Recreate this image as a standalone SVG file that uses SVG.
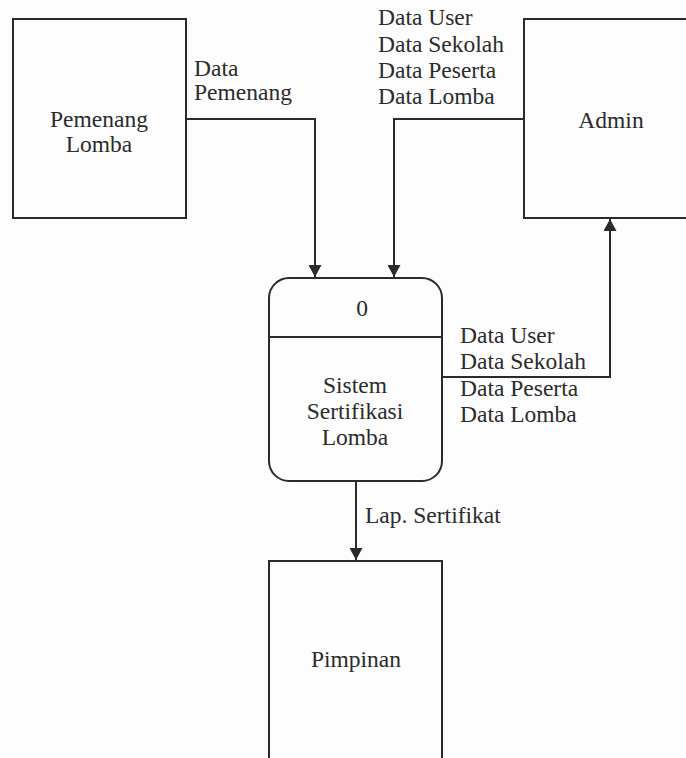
<svg xmlns="http://www.w3.org/2000/svg" width="686" height="758" viewBox="0 0 686 758">
  <style>
    .box { fill: none; stroke: #2b2b2b; stroke-width: 2; }
    .flow { fill: none; stroke: #2b2b2b; stroke-width: 2; }
    .t { font-family: 'Liberation Serif', 'Times New Roman', Times, 'Noto Serif', 'DejaVu Serif', serif; font-size: 23.5px; fill: #2b2b2b; }
    .c { text-anchor: middle; }
  </style>
  <defs>
    <marker id="arrow" markerUnits="userSpaceOnUse" markerWidth="13" markerHeight="13" refX="12" refY="6.5" orient="auto">
      <path d="M0,0 L12,6.5 L0,13 z" fill="#2b2b2b"/>
    </marker>
  </defs>
  <rect width="686" height="758" fill="#fdfdfd"/>

  <!-- external entity: Pemenang Lomba -->
  <g id="pemenang-lomba">
    <rect class="box" x="13" y="19" width="173" height="199"/>
    <text class="t c" x="99" y="127">Pemenang</text>
    <text class="t c" x="99" y="152">Lomba</text>
  </g>

  <!-- external entity: Admin (runs past the right edge) -->
  <g id="admin">
    <rect class="box" x="524" y="19" width="180" height="199"/>
    <text class="t c" x="611" y="128">Admin</text>
  </g>

  <!-- process 0 -->
  <g id="proses-0">
    <rect class="box" x="269" y="278" width="173" height="203" rx="20" ry="20"/>
    <line class="box" x1="269" y1="337" x2="442" y2="337"/>
    <text class="t c" x="362" y="316">0</text>
    <text class="t c" x="355" y="393">Sistem</text>
    <text class="t c" x="355" y="419">Sertifikasi</text>
    <text class="t c" x="355" y="445">Lomba</text>
  </g>

  <!-- external entity: Pimpinan (runs past the bottom edge) -->
  <g id="pimpinan">
    <rect class="box" x="269" y="561" width="173" height="210"/>
    <text class="t c" x="356" y="667">Pimpinan</text>
  </g>

  <!-- data flows -->
  <g id="connectors">
    <path class="flow" d="M186,119 H315 V277" marker-end="url(#arrow)"/>
    <path class="flow" d="M524,119 H394 V277" marker-end="url(#arrow)"/>
    <path class="flow" d="M442,377 H610 V219" marker-end="url(#arrow)"/>
    <path class="flow" d="M356,481 V560" marker-end="url(#arrow)"/>

    <text class="t" x="194" y="76">Data</text>
    <text class="t" x="194" y="100">Pemenang</text>

    <text class="t" x="378" y="25">Data User</text>
    <text class="t" x="378" y="51.5">Data Sekolah</text>
    <text class="t" x="378" y="77.5">Data Peserta</text>
    <text class="t" x="378" y="104">Data Lomba</text>

    <text class="t" x="460" y="343">Data User</text>
    <text class="t" x="460" y="369">Data Sekolah</text>
    <text class="t" x="460" y="396">Data Peserta</text>
    <text class="t" x="460" y="422">Data Lomba</text>

    <text class="t" x="365" y="523">Lap. Sertifikat</text>
  </g>
</svg>
